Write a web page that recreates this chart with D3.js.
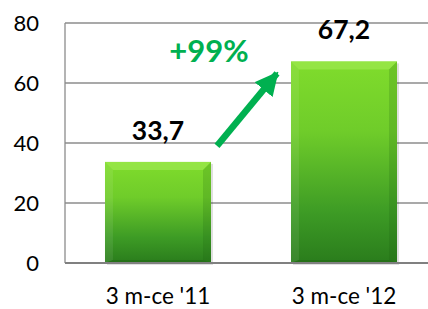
<!DOCTYPE html>
<html>
<head>
<meta charset="utf-8">
<script src="https://cdn.jsdelivr.net/npm/d3@7"></script>
<style>
  body { margin: 0; background: #fff; }
  svg { display: block; font-family: Lato, "Open Sans", sans-serif; }
</style>
</head>
<body>
<div id="chart"></div>
<script>
const categories = ["3 m-ce '11", "3 m-ce '12"];
const values = [33.7, 67.2];
const valueLabels = ["33,7", "67,2"];
const yTicks = [0, 20, 40, 60, 80];
const growthLabel = "+99%";

const W = 428, H = 309;
const margin = {top: 23, right: -9, bottom: 46, left: 65},
  width = W - margin.left - margin.right,
  height = H - margin.top - margin.bottom;

const svg = d3.select("#chart")
  .append("svg")
    .attr("width", W)
    .attr("height", H);

const defs = svg.append("defs");
const grad = defs.append("linearGradient")
  .attr("id", "barGrad").attr("x1", 0).attr("y1", 0).attr("x2", 0).attr("y2", 1);
grad.append("stop").attr("offset", "0%").attr("stop-color", "#80dc2c");
grad.append("stop").attr("offset", "35%").attr("stop-color", "#6fcc2a");
grad.append("stop").attr("offset", "75%").attr("stop-color", "#3d9b25");
grad.append("stop").attr("offset", "100%").attr("stop-color", "#2a7c1c");

defs.append("marker")
  .attr("id", "head")
  .attr("viewBox", "0 0 10 10")
  .attr("refX", 9).attr("refY", 5)
  .attr("markerWidth", 3.6).attr("markerHeight", 3.6)
  .attr("markerUnits", "strokeWidth")
  .attr("orient", "auto")
  .append("path")
    .attr("d", "M0,0 L10,5 L0,10 Z")
    .attr("fill", "#00b050");

const g = svg.append("g")
  .attr("transform", "translate(" + margin.left + "," + margin.top + ")");

const x = d3.scaleBand()
  .domain(categories)
  .range([0, width])
  .paddingInner(0.43)
  .paddingOuter(0.215);

const y = d3.scaleLinear()
  .domain([0, 80])
  .range([height, 0]);

// grid lines
g.selectAll(".grid")
  .data(yTicks.filter(d => d > 0))
  .join("line")
    .attr("x1", 0).attr("x2", width)
    .attr("y1", d => y(d)).attr("y2", d => y(d))
    .attr("stroke", "#8c8c8c")
    .attr("stroke-width", 1.3);

// left border
g.append("line")
  .attr("x1", 0).attr("x2", 0)
  .attr("y1", 0).attr("y2", height)
  .attr("stroke", "#8c8c8c").attr("stroke-width", 1.3);

// y tick labels
g.selectAll(".ytick")
  .data(yTicks)
  .join("text")
    .attr("x", -26)
    .attr("y", d => y(d))
    .attr("dy", "0.36em")
    .attr("text-anchor", "end")
    .attr("font-size", 22)
    .attr("fill", "#000")
    .text(d => d);

// bars
const bars = g.selectAll(".bar")
  .data(categories.map((c, i) => ({c, v: values[i], lab: valueLabels[i]})))
  .join("g");

bars.append("rect")
  .attr("x", d => x(d.c) + 2)
  .attr("y", d => y(d.v) + 2)
  .attr("width", x.bandwidth())
  .attr("height", d => height - y(d.v))
  .attr("fill", "#000")
  .attr("opacity", 0.12);

bars.append("rect")
  .attr("x", d => x(d.c))
  .attr("y", d => y(d.v))
  .attr("width", x.bandwidth())
  .attr("height", d => height - y(d.v))
  .attr("fill", "url(#barGrad)");

// bevel: top strip lighter, sides and bottom darker
const bev = 8;
bars.append("path")
  .attr("d", d => {
    const x0 = x(d.c), x1 = x0 + x.bandwidth(), y0 = y(d.v);
    return `M${x0},${y0}L${x1},${y0}L${x1 - bev},${y0 + bev}L${x0 + bev},${y0 + bev}Z`;
  })
  .attr("fill", "#a6ec5a").attr("opacity", 0.55);
bars.append("path")
  .attr("d", d => {
    const x0 = x(d.c), y0 = y(d.v);
    return `M${x0},${y0}L${x0 + bev},${y0 + bev}L${x0 + bev},${height - 3}L${x0},${height}Z`;
  })
  .attr("fill", "#ffffff").attr("opacity", 0.08);
bars.append("path")
  .attr("d", d => {
    const x1 = x(d.c) + x.bandwidth(), y0 = y(d.v);
    return `M${x1},${y0}L${x1 - bev},${y0 + bev}L${x1 - bev},${height - 3}L${x1},${height}Z`;
  })
  .attr("fill", "#1e5f12").attr("opacity", 0.18);
bars.append("path")
  .attr("d", d => {
    const x0 = x(d.c), x1 = x0 + x.bandwidth();
    return `M${x0},${height}L${x0 + bev},${height - 3}L${x1 - bev},${height - 3}L${x1},${height}Z`;
  })
  .attr("fill", "#1e5f12").attr("opacity", 0.4);

// value labels
bars.append("text")
  .attr("x", d => x(d.c) + x.bandwidth() / 2)
  .attr("y", d => y(d.v) - 22)
  .attr("text-anchor", "middle")
  .attr("font-size", 26.5)
  .attr("font-weight", "bold")
  .attr("fill", "#000")
  .text(d => d.lab);

// bottom axis line
g.append("line")
  .attr("x1", 0).attr("x2", width)
  .attr("y1", height).attr("y2", height)
  .attr("stroke", "#808080").attr("stroke-width", 2.2);

// category labels
g.selectAll(".xlab")
  .data(categories)
  .join("text")
    .attr("x", d => x(d) + x.bandwidth() / 2)
    .attr("y", height + 41)
    .attr("text-anchor", "middle")
    .attr("font-size", 22.5)
    .attr("fill", "#000")
    .text(d => d);

// growth arrow
const ax0 = x(categories[0]) + x.bandwidth() + 6, ay0 = y(values[0]) - 16;
const ax1 = x(categories[1]) - 14, ay1 = y(values[1]) + 12;
g.append("line")
  .attr("x1", ax0).attr("y1", ay0)
  .attr("x2", ax1).attr("y2", ay1)
  .attr("stroke", "#00b050")
  .attr("stroke-width", 6.5)
  .attr("marker-end", "url(#head)");

g.append("text")
  .attr("x", x(categories[0]) + x.bandwidth() - 2)
  .attr("y", y(values[1]) + 1)
  .attr("text-anchor", "middle")
  .attr("font-size", 31)
  .attr("font-weight", "bold")
  .attr("fill", "#00b050")
  .text(growthLabel);
</script>
</body>
</html>
